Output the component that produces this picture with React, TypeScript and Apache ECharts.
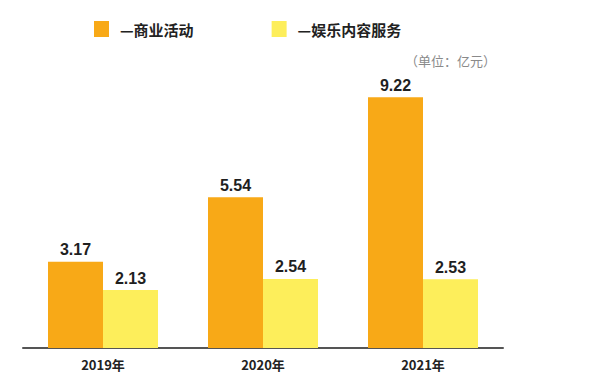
import React, { useEffect, useRef } from "react";
import * as echarts from "echarts";

const categories = ["2019年", "2020年", "2021年"];
const seriesNames = ["—商业活动", "—娱乐内容服务"];
const businessValues = [3.17, 5.54, 9.22];
const entertainmentValues = [2.13, 2.54, 2.53];
const unitText = "（单位：亿元）";

const FONT = "'Noto Sans CJK SC', 'Noto Sans', sans-serif";

export default function App() {
  const ref = useRef<HTMLDivElement>(null);
  useEffect(() => {
    if (!ref.current) return;
    const chart = echarts.init(ref.current, undefined, { renderer: "svg" });
    const label = {
      show: true,
      position: "top",
      distance: 4,
      color: "#1f1f1f",
      fontSize: 16,
      fontWeight: "bold",
      fontFamily: "Arial, 'Liberation Sans', sans-serif",
    };
    chart.setOption({
      animation: false,
      backgroundColor: "#ffffff",
      legend: {
        left: 89,
        top: 16,
        itemWidth: 15,
        itemHeight: 16,
        itemGap: 78,
        icon: "rect",
        textStyle: {
          fontSize: 15,
          fontWeight: "bold",
          color: "#222",
          fontFamily: FONT,
          padding: [0, 0, 0, 6],
        },
        data: seriesNames,
      },
      graphic: [
        {
          type: "text",
          right: 104,
          top: 54,
          style: {
            text: unitText,
            fontSize: 13,
            fill: "#8a8a8a",
            fontFamily: FONT,
          },
        },
      ],
      grid: { left: 23, width: 480, top: 76, bottom: 40 },
      xAxis: {
        type: "category",
        data: categories,
        axisLine: { lineStyle: { color: "#555", width: 2 } },
        axisTick: { show: false },
        axisLabel: {
          color: "#222",
          fontSize: 13,
          fontWeight: "bold",
          margin: 10,
          fontFamily: FONT,
        },
      },
      yAxis: {
        type: "value",
        min: 0,
        max: 10,
        show: false,
        splitLine: { show: false },
      },
      series: [
        {
          name: seriesNames[0],
          type: "bar",
          data: businessValues,
          barWidth: 55,
          barGap: "0%",
          itemStyle: { color: "#F8A917" },
          label,
        },
        {
          name: seriesNames[1],
          type: "bar",
          data: entertainmentValues,
          barWidth: 55,
          barGap: "0%",
          itemStyle: { color: "#FDEE5B" },
          label,
        },
      ],
    });
    return () => chart.dispose();
  }, []);
  return <div ref={ref} style={{ width: 600, height: 388, margin: -8 }} />;
}
